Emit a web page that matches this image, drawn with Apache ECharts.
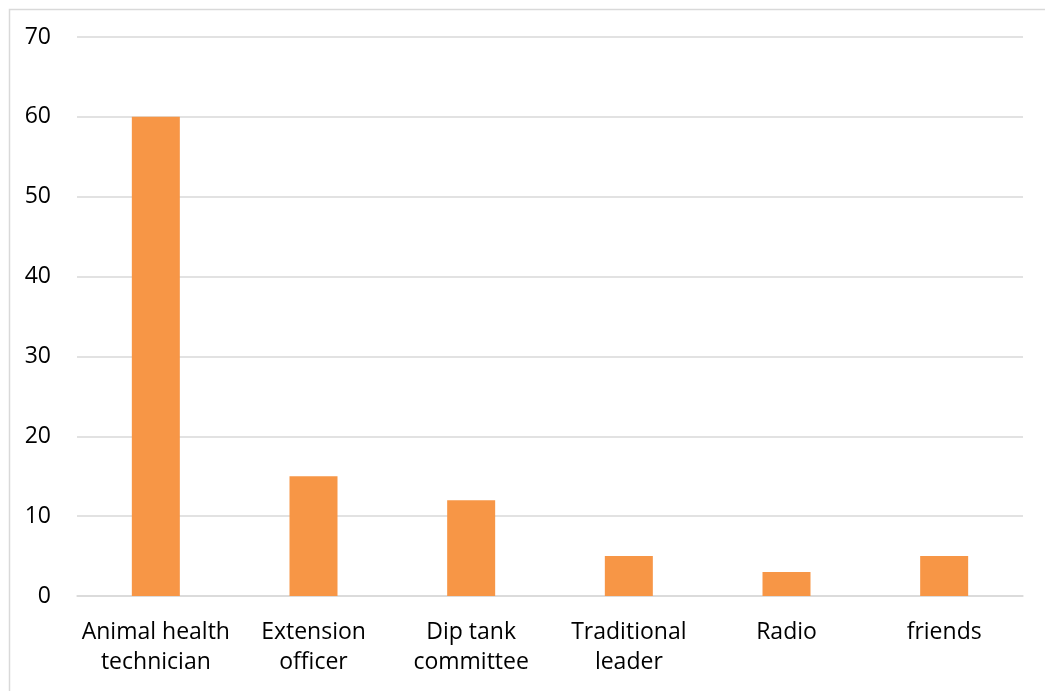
<!DOCTYPE html>
<html>
<head>
<meta charset="utf-8">
<script src="https://cdn.jsdelivr.net/npm/echarts@6/dist/echarts.min.js"></script>
<style>html,body{margin:0;padding:0;background:#fff}#c{width:1045px;height:691px}</style>
</head>
<body>
<div id="c"></div>
<script>
const categories = ["Animal health\ntechnician", "Extension\nofficer", "Dip tank\ncommittee", "Traditional\nleader", "Radio", "friends"];
const values = [60, 15, 12, 5, 3, 5];
const yTicks = { min: 0, max: 70, interval: 10 };

const chart = echarts.init(document.getElementById('c'), null, { renderer: 'canvas' });
const font = "'Open Sans', 'Liberation Sans', sans-serif";
chart.setOption({
  animation: false,
  backgroundColor: '#fff',
  graphic: [{
    type: 'rect', left: 7, top: 7,
    shape: { width: 1060, height: 700 },
    style: { fill: 'none', stroke: '#d9d9d9', lineWidth: 1.5 },
    silent: true
  }],
  grid: { left: 77, right: 22, top: 37, bottom: 95, containLabel: false },
  xAxis: {
    type: 'category',
    data: categories,
    axisLine: { show: true, lineStyle: { color: '#d9d9d9', width: 1.5 } },
    axisTick: { show: false },
    axisLabel: { color: '#000', fontSize: 23, fontFamily: font, lineHeight: 30, margin: 21, interval: 0 }
  },
  yAxis: {
    type: 'value',
    min: yTicks.min, max: yTicks.max, interval: yTicks.interval,
    axisLine: { show: false },
    axisTick: { show: false },
    splitLine: { lineStyle: { color: '#d9d9d9', width: 1.5 } },
    axisLabel: { color: '#000', fontSize: 23, fontFamily: font, margin: 26 }
  },
  series: [{
    type: 'bar',
    data: values,
    barWidth: 48,
    itemStyle: { color: '#F79646' }
  }]
});
</script>
</body>
</html>
